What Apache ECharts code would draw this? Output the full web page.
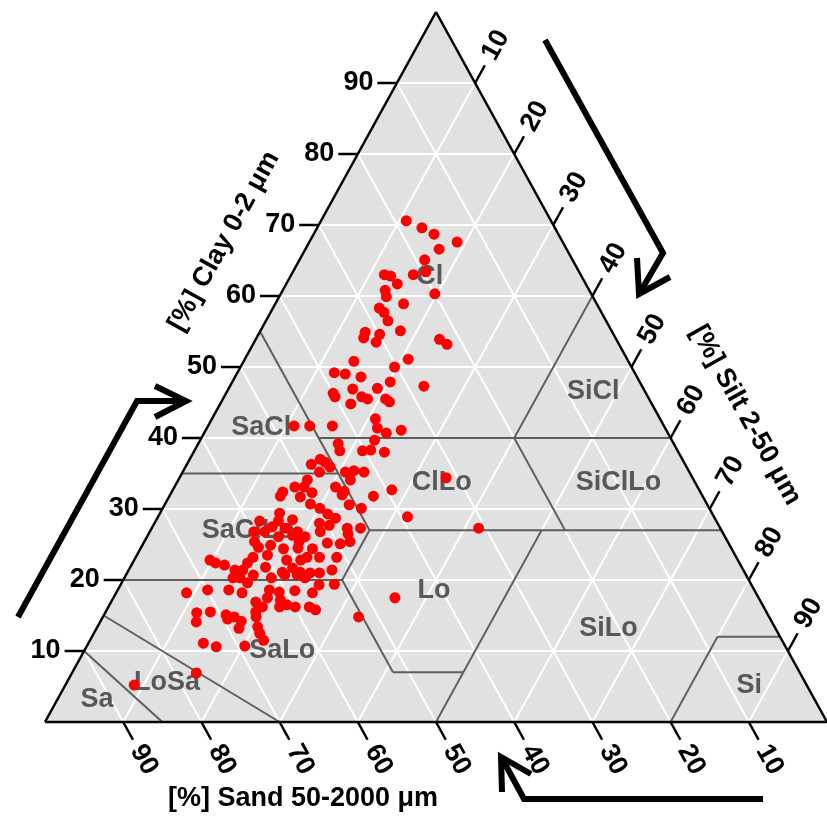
<!DOCTYPE html>
<html><head><meta charset="utf-8">
<script src="https://cdn.jsdelivr.net/npm/echarts@6/dist/echarts.min.js"></script>
<style>html,body{margin:0;padding:0;background:#fff}#c{width:827px;height:817px}</style>
</head><body><div id="c"></div>
<script>
// Sample composition (percent). Silt = 100 - sand - clay.
const sandPct = [18.5,17.0,15.9,13.5,16.3,18.9,19.6,21.4,25.1,24.4,24.1,26.1,26.4,20.0,24.7,28.1,27.8,27.9,27.0,31.6,32.2,29.9,30.9,22.6,22.0,28.0,35.1,30.3,38.4,37.1,35.3,31.9,34.0,37.2,27.9,40.0,40.0,36.6,36.0,33.7,33.4,38.5,36.4,36.8,47.3,45.3,42.4,33.9,36.0,38.0,42.9,43.2,40.3,39.2,37.6,46.3,45.9,45.6,47.8,47.3,44.0,42.8,41.6,43.9,31.5,49.4,51.5,50.3,49.7,46.3,45.5,46.0,39.3,42.1,51.5,50.7,45.8,44.5,49.8,49.2,48.5,54.1,39.2,49.8,47.7,46.0,30.9,51.4,54.3,48.0,48.3,49.7,51.3,51.1,53.3,46.5,52.5,53.4,54.0,55.3,56.0,50.9,58.4,57.2,55.6,59.9,58.5,57.1,55.2,53.7,54.8,60.5,60.4,58.7,57.3,55.4,53.6,53.3,54.9,55.9,57.7,59.8,61.8,62.9,67.5,67.0,66.0,65.0,64.0,60.9,59.1,57.5,56.8,55.6,54.4,52.6,72.8,69.9,67.2,65.7,72.9,73.6,71.1,69.3,69.4,68.4,67.8,68.6,74.2,72.8,69.1,66.3,66.3,66.1,65.6,65.3,64.6,64.1,62.8,62.0,60.9,61.3,61.9,60.8,59.9,58.8,58.1,57.5,56.7,55.3,60.9,63.0,64.9,65.8,64.3,59.0,57.4,56.6,77.2,86.0];
const clayPct = [70.6,69.6,68.7,67.6,66.6,65.1,63.4,63.0,63.0,62.8,61.7,60.8,59.9,60.3,58.9,58.3,57.7,56.5,55.1,54.9,54.1,54.6,53.5,53.9,53.2,51.1,50.8,50.0,49.2,49.0,48.6,47.9,47.0,46.9,47.3,46.3,45.8,45.8,45.5,45.5,45.1,44.8,42.7,41.4,41.7,41.7,41.7,41.1,40.7,39.7,39.2,38.2,38.2,38.3,38.0,37.0,36.6,35.9,36.3,35.2,35.2,35.4,35.2,34.1,34.4,34.1,33.1,33.1,32.3,33.1,32.5,32.0,32.7,31.8,31.7,30.7,30.6,30.1,30.1,29.3,28.7,28.5,28.9,27.7,27.3,27.3,27.3,26.8,26.8,26.5,25.4,25.1,25.2,23.2,19.4,17.5,14.8,32.4,31.8,29.4,28.3,28.0,28.3,27.5,27.3,26.8,26.8,26.1,26.3,26.1,25.4,25.4,24.6,24.9,24.4,24.5,24.4,23.2,23.2,22.8,22.8,23.5,23.2,22.4,22.8,22.4,22.1,21.4,21.4,21.8,21.1,21.7,21.1,21.0,21.0,21.4,18.2,18.6,18.6,18.2,15.4,14.1,15.5,15.1,14.5,14.8,14.2,13.2,11.1,10.6,10.7,11.5,12.5,13.4,14.8,15.5,16.9,16.2,17.5,18.6,18.3,17.2,16.2,16.5,16.2,18.5,16.2,15.8,18.2,19.3,20.3,20.7,20.3,20.3,19.6,20.7,20.7,20.3,6.9,5.2];

const tickValues = [10,20,30,40,50,60,70,80,90];

// USDA texture class boundaries as [sand,silt,clay] -> [sand,silt,clay]
const classBoundaries = [
  [[85,15,0],[90,0,10]],
  [[70,30,0],[85,0,15]],
  [[80,0,20],[52,28,20]],
  [[52,28,20],[52,41,7]],
  [[52,41,7],[43,50,7]],
  [[43,50,7],[50,50,0]],
  [[43,50,7],[23,50,27]],
  [[52,28,20],[45,28,27]],
  [[45,28,27],[0,73,27]],
  [[45,28,27],[45,0,55]],
  [[65,0,35],[45,20,35]],
  [[45,15,40],[0,60,40]],
  [[20,40,40],[20,53,27]],
  [[20,40,40],[0,40,60]],
  [[20,80,0],[8,80,12]],
  [[8,80,12],[0,88,12]]
];
const classNames = ['Cl','SiCl','SaCl','ClLo','SiClLo','SaClLo','Lo','SiLo','SaLo','LoSa','Sa','Si'];
const classSand  = [19.4,6.6,51.6,32.4,9.8,60.5,41.0,21.4,64.6,81.6,91.8,7.4];
const classClay  = [62.8,46.6,41.5,33.7,33.7,27.0,18.5,13.1,10.1,5.6,3.1,5.1];

const axisTitles = {
  clay: '[%] Clay 0-2 \u03bcm',
  silt: '[%] Silt 2-50 \u03bcm',
  sand: '[%] Sand 50-2000 \u03bcm'
};

// ternary -> cartesian (x = silt + clay/2, y = clay)
function tern(sand, silt, clay){ return [silt + clay/2, clay]; }
function fromSandClay(s, c){ return [100 - s - c/2, c]; }

const points = sandPct.map((s,i)=>fromSandClay(s, clayPct[i]));

// grid lines
const gridSegs = [];
tickValues.forEach(v=>{
  gridSegs.push([...tern(100-v,0,v), ...tern(0,100-v,v)]);
  gridSegs.push([...tern(v,100-v,0), ...tern(v,0,100-v)]);
  gridSegs.push([...tern(100-v,v,0), ...tern(0,v,100-v)]);
});
const boundSegs = classBoundaries.map(b=>[...tern(...b[0]), ...tern(...b[1])]);
const outlineSegs = [[0,0,100,0],[0,0,50,100],[100,0,50,100]];

const TL = 2.5; // tick length (in percent units along constant line)
const tickSegs = [];
const tickLabels = [];
const ROT = Math.atan2(710, 395);
tickValues.forEach(v=>{
  // clay ticks (left edge, horizontal)
  const e = tern(100-v,0,v);
  tickSegs.push([e[0], e[1], e[0]-TL, e[1]]);
  tickLabels.push({pos:[e[0]-TL-0.5, e[1]], text:String(v), rot:0, align:'right'});
  // sand ticks (bottom edge)
  const b = tern(v,100-v,0);
  const bo = [100 - v + TL/2, -TL];
  tickSegs.push([b[0], b[1], bo[0], bo[1]]);
  const bl = [100 - v + 5.3/2, -5.3];
  tickLabels.push({pos:bl, text:String(v), rot:-ROT, align:'center'});
  // silt ticks (right edge)
  const r = tern(0,v,100-v);
  const ro = [v + (100-v+TL)/2, 100-v+TL];
  tickSegs.push([r[0], r[1], ro[0], ro[1]]);
  const rl = [v + (100-v+5.3)/2, 100-v+5.3];
  tickLabels.push({pos:rl, text:String(v), rot:ROT, align:'center'});
});
const titles = [
  {pos:[22.9,67.7], text:axisTitles.clay, rot:ROT},
  {pos:[89.6,43.2], text:axisTitles.silt, rot:-ROT},
  {pos:[33.0,-10.8], text:axisTitles.sand, rot:0}
];

function segSeries(segs, color, width, z){
  return {
    type:'custom', z:z, silent:true, clip:false,
    data: segs,
    renderItem:(params, api)=>{
      const p1 = api.coord([api.value(0), api.value(1)]);
      const p2 = api.coord([api.value(2), api.value(3)]);
      return {type:'line', shape:{x1:p1[0],y1:p1[1],x2:p2[0],y2:p2[1]},
        style:{stroke:color, lineWidth:width, lineCap:'butt'}};
    }
  };
}
function textSeries(items, font, color, z){
  return {
    type:'custom', z:z, silent:true, clip:false,
    data: items.map(t=>t.pos),
    renderItem:(params, api)=>{
      const t = items[params.dataIndex];
      const p = api.coord([api.value(0), api.value(1)]);
      return {type:'text', x:p[0], y:p[1], rotation:t.rot||0,
        style:{text:t.text, fill:color, font:font, align:t.align||'center', verticalAlign:'middle'}};
    }
  };
}

const FONT = '"Liberation Sans", Arial, sans-serif';
const chart = echarts.init(document.getElementById('c'), null, {renderer:'canvas'});
const arrowStyle = {stroke:'#000', lineWidth:6, fill:null, lineJoin:'miter'};
chart.setOption({
  animation:false,
  backgroundColor:'#ffffff',
  grid:{left:45, top:12, width:790, height:710},
  xAxis:{type:'value', min:0, max:100, show:false},
  yAxis:{type:'value', min:0, max:100, show:false},
  graphic:[
    {type:'polyline', shape:{points:[[18,617],[137,401],[181,401]]}, style:arrowStyle, z:100},
    {type:'polyline', shape:{points:[[155,386],[186,401],[155,417]]}, style:arrowStyle, z:100},
    {type:'polyline', shape:{points:[[545,40],[663,253],[642,289]]}, style:arrowStyle, z:100},
    {type:'polyline', shape:{points:[[637,258],[639,294],[670,277]]}, style:arrowStyle, z:100},
    {type:'polyline', shape:{points:[[763,799],[524,799],[504,762]]}, style:arrowStyle, z:100},
    {type:'polyline', shape:{points:[[502,792],[501,757],[531,774]]}, style:arrowStyle, z:100}
  ],
  series:[
    {
      type:'custom', z:1, silent:true, clip:false,
      data:[[0]],
      renderItem:(params, api)=>({type:'polygon',
        shape:{points:[api.coord([0,0]), api.coord([100,0]), api.coord([50,100])]},
        style:{fill:'#e1e1e1'}})
    },
    segSeries(gridSegs, '#ffffff', 2, 2),
    segSeries(boundSegs, '#5e5e5e', 2, 3),
    textSeries(classNames.map((n,i)=>({pos:fromSandClay(classSand[i], classClay[i]), text:n})), 'bold 27px '+FONT, '#585858', 4),
    {
      type:'scatter', z:5, silent:true, symbol:'circle', symbolSize:11,
      itemStyle:{color:'#ff0000', opacity:1},
      data: points
    },
    segSeries(outlineSegs, '#000000', 2.5, 6),
    segSeries(tickSegs, '#000000', 2.5, 6),
    textSeries(tickLabels, 'bold 27px '+FONT, '#000000', 7),
    textSeries(titles, 'bold 27px '+FONT, '#000000', 7)
  ]
});
</script></body></html>
